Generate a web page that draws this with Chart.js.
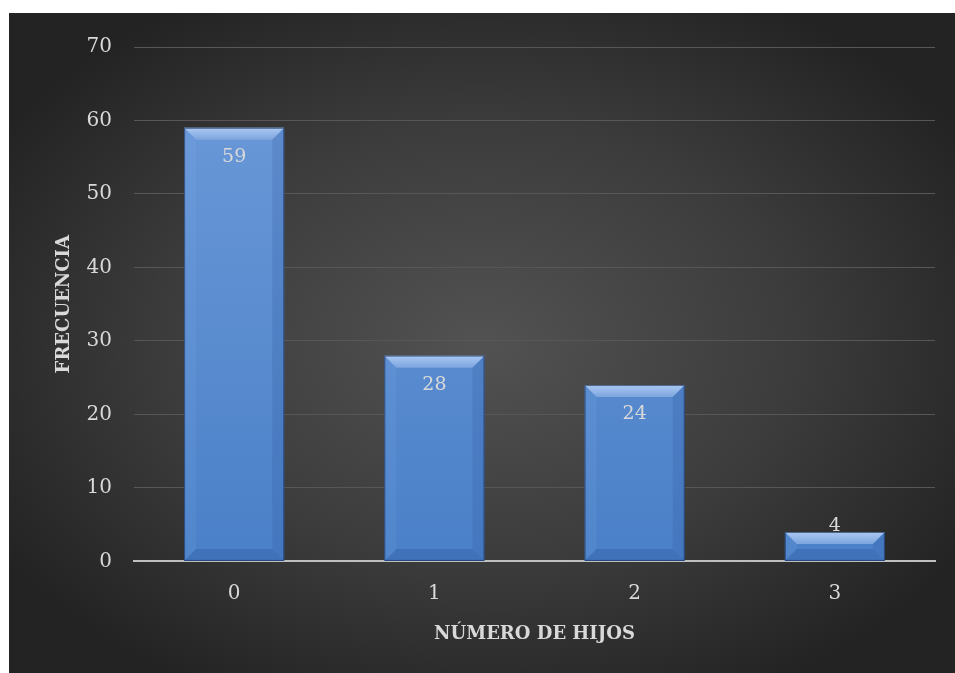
<!DOCTYPE html>
<html>
<head>
<meta charset="utf-8">
<script src="https://cdn.jsdelivr.net/npm/chart.js@4.4.0/dist/chart.umd.min.js"></script>
<style>
  html, body { margin: 0; padding: 0; background: #fff; }
  #caja {
    position: absolute; left: 9px; top: 13px; width: 946px; height: 660px;
    background: radial-gradient(ellipse 60% 60% at 50% 50%, #525252 0%, #3c3c3c 55%, #232323 100%);
  }
</style>
</head>
<body>
<div id="caja"><canvas id="grafico"></canvas></div>
<script>
// datos
const categorias = ['0', '1', '2', '3'];
const frecuencias = [59, 28, 24, 4];
const ticksY = [0, 10, 20, 30, 40, 50, 60, 70];

const fuente = "'DejaVu Serif', 'Liberation Serif', serif";
const gris = '#d9d9d9';

// bisel de las barras + etiquetas
const biselPlugin = {
  id: 'bisel',
  afterDatasetsDraw(chart) {
    const ctx = chart.ctx;
    const meta = chart.getDatasetMeta(0);
    meta.data.forEach((bar, i) => {
      const left = bar.x - bar.width / 2, right = bar.x + bar.width / 2;
      const top = bar.y, bottom = bar.base;
      const b = Math.min(12, (bottom - top) / 2);
      ctx.save();
      // bisel superior
      let g = ctx.createLinearGradient(0, top, 0, top + b);
      g.addColorStop(0, '#abc9f2');
      g.addColorStop(1, '#7ca5de');
      ctx.fillStyle = g;
      ctx.beginPath();
      ctx.moveTo(left, top); ctx.lineTo(right, top);
      ctx.lineTo(right - b, top + b); ctx.lineTo(left + b, top + b);
      ctx.closePath(); ctx.fill();
      // lados
      ctx.fillStyle = 'rgba(40,80,150,0.18)';
      ctx.beginPath();
      ctx.moveTo(right, top); ctx.lineTo(right, bottom);
      ctx.lineTo(right - b, bottom - b); ctx.lineTo(right - b, top + b);
      ctx.closePath(); ctx.fill();
      ctx.fillStyle = 'rgba(140,180,235,0.12)';
      ctx.beginPath();
      ctx.moveTo(left, top); ctx.lineTo(left, bottom);
      ctx.lineTo(left + b, bottom - b); ctx.lineTo(left + b, top + b);
      ctx.closePath(); ctx.fill();
      // bisel inferior
      ctx.fillStyle = 'rgba(30,70,140,0.25)';
      ctx.beginPath();
      ctx.moveTo(left, bottom); ctx.lineTo(right, bottom);
      ctx.lineTo(right - b, bottom - b); ctx.lineTo(left + b, bottom - b);
      ctx.closePath(); ctx.fill();
      // borde oscuro
      ctx.strokeStyle = 'rgba(20,40,80,0.6)';
      ctx.lineWidth = 1;
      ctx.strokeRect(left + 0.5, top + 0.5, right - left - 1, bottom - top - 1);
      // etiqueta
      ctx.fillStyle = gris;
      ctx.font = '19px ' + fuente;
      ctx.textAlign = 'center';
      ctx.textBaseline = 'middle';
      const y = (bottom - top) >= 58 ? top + 29 : top - 6;
      ctx.fillText(frecuencias[i], bar.x, y);
      ctx.restore();
    });
  }
};

new Chart(document.getElementById('grafico').getContext('2d'), {
  type: 'bar',
  data: {
    labels: categorias,
    datasets: [{
      data: frecuencias,
      backgroundColor: (c) => {
        const area = c.chart.chartArea;
        if (!area) return '#5a8ad0';
        const g = c.chart.ctx.createLinearGradient(0, area.top, 0, area.bottom);
        g.addColorStop(0, '#6e9bd9');
        g.addColorStop(1, '#4a80c8');
        return g;
      },
      borderWidth: 0,
      barPercentage: 0.5,
      categoryPercentage: 1.0
    }]
  },
  options: {
    responsive: true,
    maintainAspectRatio: false,
    animation: false,
    plugins: { legend: { display: false }, tooltip: { enabled: false } },
    layout: { padding: { left: 45, right: 20, top: 32, bottom: 24 } },
    scales: {
      y: {
        min: 0, max: 70,
        afterBuildTicks: (s) => { s.ticks = ticksY.map(v => ({ value: v })); },
        ticks: { color: gris, font: { size: 20, family: fuente }, padding: 22 },
        grid: { color: '#575757', lineWidth: 1, drawTicks: false },
        border: { display: false },
        title: { display: true, text: 'FRECUENCIA', color: gris, font: { size: 18, weight: 'bold', family: fuente }, padding: { top: 0, bottom: -11 } }
      },
      x: {
        ticks: { color: gris, font: { size: 20, family: fuente }, padding: 20 },
        grid: { display: false, drawTicks: false },
        border: { display: true, color: '#bfbfbf', width: 2 },
        title: { display: true, text: 'NÚMERO DE HIJOS', color: gris, font: { size: 18, weight: 'bold', family: fuente }, padding: { top: -2, bottom: 4 } }
      }
    }
  },
  plugins: [biselPlugin]
});
</script>
</body>
</html>
